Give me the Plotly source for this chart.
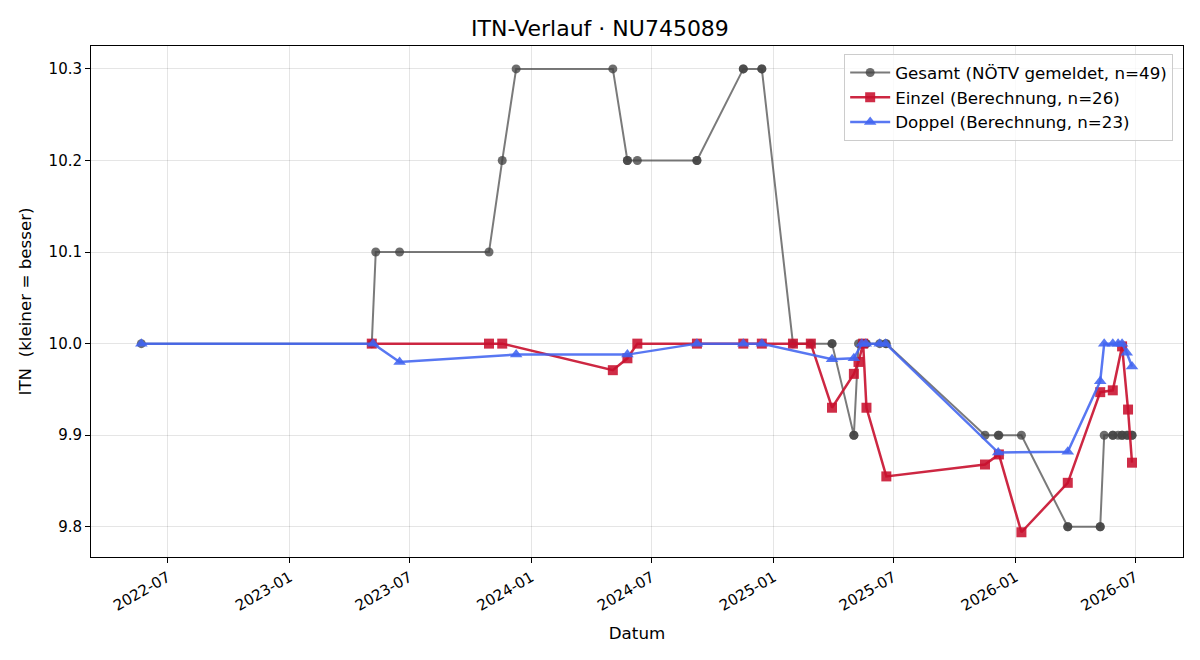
import plotly.graph_objects as go

# ---- data ----
gesamt_dates = [
    "2022-05-22", "2023-05-05", "2023-05-11", "2023-06-16", "2023-10-29", "2023-11-18",
    "2023-12-09", "2024-05-03", "2024-05-25", "2024-05-25", "2024-06-09", "2024-09-07",
    "2024-09-07", "2024-11-16", "2024-11-16", "2024-12-14", "2024-12-14", "2025-01-30",
    "2025-02-26", "2025-03-30", "2025-03-30", "2025-05-02", "2025-05-02", "2025-05-09",
    "2025-05-14", "2025-05-16", "2025-05-20", "2025-05-21", "2025-06-10", "2025-06-19",
    "2025-06-20", "2025-11-16", "2025-12-06", "2025-12-07", "2026-01-10", "2026-03-21",
    "2026-03-21", "2026-05-09", "2026-05-09", "2026-05-15", "2026-05-28", "2026-05-28",
    "2026-06-05", "2026-06-11", "2026-06-11", "2026-06-18", "2026-06-20", "2026-06-26",
    "2026-06-26",
]
gesamt_values = [
    10.0, 10.0, 10.1, 10.1, 10.1, 10.2,
    10.3, 10.3, 10.2, 10.2, 10.2, 10.2,
    10.2, 10.3, 10.3, 10.3, 10.3, 10.0,
    10.0, 10.0, 10.0, 9.9, 9.9, 10.0,
    10.0, 10.0, 10.0, 10.0, 10.0, 10.0,
    10.0, 9.9, 9.9, 9.9, 9.9, 9.8,
    9.8, 9.8, 9.8, 9.9, 9.9, 9.9,
    9.9, 9.9, 9.9, 9.9, 9.9, 9.9,
    9.9,
]

einzel_dates = [
    "2023-05-05", "2023-10-29", "2023-11-18", "2024-05-03", "2024-05-25", "2024-06-09",
    "2024-09-07", "2024-11-16", "2024-12-14", "2025-01-30", "2025-02-26", "2025-03-30",
    "2025-05-02", "2025-05-09", "2025-05-16", "2025-05-21", "2025-06-20", "2025-11-16",
    "2025-12-07", "2026-01-10", "2026-03-21", "2026-05-09", "2026-05-28", "2026-06-11",
    "2026-06-20", "2026-06-26",
]
einzel_values = [
    10.0, 10.0, 10.0, 9.971, 9.984, 10.0,
    10.0, 10.0, 10.0, 10.0, 10.0, 9.930,
    9.967, 9.980, 10.0, 9.930, 9.855, 9.868,
    9.879, 9.794, 9.848, 9.947, 9.949, 9.997,
    9.928, 9.870,
]

doppel_dates = [
    "2022-05-22", "2023-05-07", "2023-06-16", "2023-12-09", "2024-05-25", "2024-09-07",
    "2024-11-16", "2024-12-14", "2025-03-30", "2025-05-02", "2025-05-14", "2025-05-20",
    "2025-06-10", "2025-06-19", "2025-12-06", "2026-03-21", "2026-05-09", "2026-05-15",
    "2026-05-28", "2026-06-05", "2026-06-11", "2026-06-18", "2026-06-26",
]
doppel_values = [
    10.0, 10.0, 9.980, 9.988, 9.988, 10.0,
    10.0, 10.0, 9.983, 9.984, 10.0, 10.0,
    10.0, 10.0, 9.881, 9.882, 9.959, 10.0,
    10.0, 10.0, 10.0, 9.990, 9.975,
]

y_ticks = [9.8, 9.9, 10.0, 10.1, 10.2, 10.3]
x_ticks = ["2022-07-01", "2023-01-01", "2023-07-01", "2024-01-01", "2024-07-01",
           "2025-01-01", "2025-07-01", "2026-01-01", "2026-07-01"]
x_labels = ["2022-07", "2023-01", "2023-07", "2024-01", "2024-07",
            "2025-01", "2025-07", "2026-01", "2026-07"]

FONT = "DejaVu Sans"

fig = go.Figure()
fig.add_trace(go.Scatter(
    x=gesamt_dates, y=gesamt_values, mode="lines+markers",
    name="Gesamt (NÖTV gemeldet, n=49)",
    line=dict(color="rgba(85,85,85,0.78)", width=2),
    marker=dict(symbol="circle", size=9, color="rgba(68,68,68,0.78)"),
))
fig.add_trace(go.Scatter(
    x=einzel_dates, y=einzel_values, mode="lines+markers",
    name="Einzel (Berechnung, n=26)",
    line=dict(color="rgba(200,16,46,0.9)", width=2.5),
    marker=dict(symbol="square", size=10, color="rgba(200,16,46,0.88)"),
))
fig.add_trace(go.Scatter(
    x=doppel_dates, y=doppel_values, mode="lines+markers",
    name="Doppel (Berechnung, n=23)",
    line=dict(color="rgba(65,100,240,0.88)", width=2.5),
    marker=dict(symbol="triangle-up", size=11, color="rgba(65,100,240,0.88)"),
))

axis_common = dict(
    showline=True, linecolor="black", linewidth=1, mirror=True,
    ticks="outside", ticklen=5, tickcolor="black", tickwidth=1,
    showgrid=True, gridcolor="rgba(0,0,0,0.1)", gridwidth=1,
    zeroline=False, tickfont=dict(family=FONT, size=15, color="black"),
)

fig.update_layout(
    width=1200, height=660,
    margin=dict(l=91, r=17, t=46, b=103),
    paper_bgcolor="white", plot_bgcolor="white",
    font=dict(family=FONT, color="black"),
    title=dict(text="ITN-Verlauf · NU745089", x=0.5, xanchor="center",
               y=1 - 28 / 660, yanchor="middle",
               font=dict(family=FONT, size=22, color="black")),
    xaxis=dict(
        axis_common,
        type="date", range=["2022-03-07", "2026-09-11"],
        tickvals=x_ticks, ticktext=x_labels, tickangle=-30,
        title=dict(text="Datum", font=dict(family=FONT, size=16.7), standoff=13),
    ),
    yaxis=dict(
        axis_common,
        range=[9.767, 10.325], tickvals=y_ticks, tickformat=".1f",
        title=dict(text="ITN\u00a0 (kleiner = besser)", font=dict(family=FONT, size=16.7), standoff=12),
    ),
    legend=dict(
        x=0.991, y=0.984, xanchor="right", yanchor="top",
        bgcolor="rgba(255,255,255,0.8)", bordercolor="#cccccc", borderwidth=1,
        font=dict(family=FONT, size=16.7, color="black"),
        tracegroupgap=0, itemwidth=40,
    ),
    showlegend=True,
)

fig.write_html("out.html")
